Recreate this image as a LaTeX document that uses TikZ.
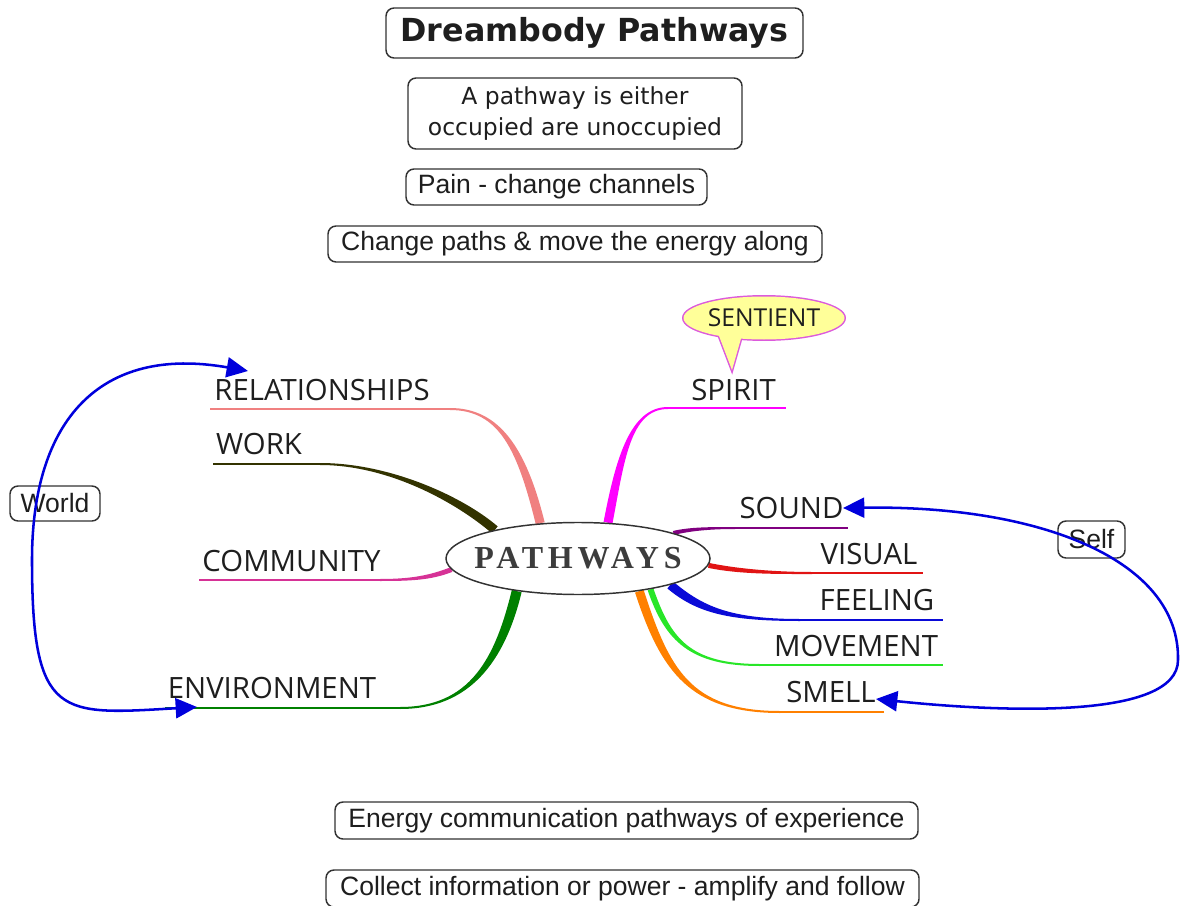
\documentclass[tikz,border=0pt]{standalone}
\usepackage{fontspec}
\setmainfont{Liberation Sans}
\newfontfamily\labfont{Open Sans}
\newfontfamily\dvfont{DejaVu Sans}
\newfontfamily\serfont[LetterSpace=15]{Liberation Serif}
\usetikzlibrary{shapes.geometric,arrows.meta,calc,backgrounds}
\definecolor{crel}{RGB}{240,128,128}
\definecolor{cwork}{RGB}{51,51,0}
\definecolor{ccomm}{RGB}{214,50,150}
\definecolor{cenv}{RGB}{0,128,0}
\definecolor{cspirit}{RGB}{255,0,255}
\definecolor{csound}{RGB}{128,0,128}
\definecolor{cvis}{RGB}{225,20,20}
\definecolor{cfeel}{RGB}{10,10,215}
\definecolor{cmove}{RGB}{40,230,40}
\definecolor{csmell}{RGB}{255,128,0}
\definecolor{blu}{RGB}{0,0,220}
\definecolor{boxc}{RGB}{50,50,50}
\definecolor{labc}{RGB}{30,30,30}
\definecolor{sentb}{RGB}{220,90,220}
\definecolor{senty}{RGB}{255,255,153}
\newcommand\taper[8]{%
  \fill[#1] ($#2+#6$) .. controls ($#3+#6$) and ($#4+#7$) .. ($#5+#7$)
    -- ($#5-#7$) .. controls ($#4-#7$) and ($#3-#6$) .. ($#2-#6$) -- cycle;
  \draw[#1, line width=1.5pt] #5 -- #8;}
\tikzset{
  box/.style={draw=boxc, line width=1.1pt, rounded corners=6pt, fill=white,
    inner sep=0pt, align=center, text=labc, font=\fontsize{19.9}{24}\selectfont},
  lab/.style={anchor=base, text=labc, inner sep=0pt, font=\labfont\fontsize{22}{26}\selectfont},
  dblarrow/.style={blu, line width=1.9pt,
    {Triangle[length=16pt,width=15pt]}-{Triangle[length=16pt,width=15pt]}}
}
\begin{document}
\begin{tikzpicture}[x=0.75pt, y=-0.75pt]
\useasboundingbox (0,0) rectangle (1183,906);

% text boxes
\node[box, minimum width=312.75pt, minimum height=37.5pt,
  font=\dvfont\bfseries\fontsize{23.8}{28}\selectfont] (title) at (594.5,33) {Dreambody Pathways};
\node[box, minimum width=250.5pt, minimum height=53.25pt,
  font=\dvfont\fontsize{17.6}{23.25}\selectfont] (occ) at (575,113.5) {A pathway is either\\occupied are unoccupied};
\node[box, minimum width=225.75pt, minimum height=27pt] (pain) at (556.5,187) {Pain - change channels};
\node[box, minimum width=370.5pt, minimum height=27pt] (chg) at (575,244) {Change paths \& move the energy along};
\node[box, minimum width=437.25pt, minimum height=27.75pt] (energy) at (626.5,820.5) {Energy communication pathways of experience};
\node[box, minimum width=444.75pt, minimum height=27.75pt] (coll) at (622.5,888.5) {Collect information or power - amplify and follow};
\node[box, minimum width=67.5pt, minimum height=26.25pt] (world) at (55,503.5) {World};
\node[box, minimum width=50.25pt, minimum height=27.75pt] (self) at (1091.5,539.5) {Self};

% central ellipse
\node[ellipse, draw=boxc, line width=1.1pt, fill=white, minimum width=198pt,
  minimum height=54pt, inner sep=0pt] (P) at (578,558.5) {};
\node[text={rgb,255:red,60;green,60;blue,60}, inner sep=0pt,
  font=\serfont\bfseries\fontsize{24}{26}\selectfont] (Ptext) at (P.center) {PATHWAYS};

% labels
\node[lab] (rel) at (322,400) {RELATIONSHIPS};
\node[lab] (work) at (259,454) {WORK};
\node[lab] (comm) at (291.5,571) {COMMUNITY};
\node[lab] (env) at (272,698) {ENVIRONMENT};
\node[lab] (spirit) at (733.5,400) {SPIRIT};
\node[lab] (sound) at (791.5,518) {SOUND};
\node[lab] (visual) at (869,564) {VISUAL};
\node[lab] (feeling) at (877,610) {FEELING};
\node[lab] (move) at (856,656) {MOVEMENT};
\node[lab] (smell) at (831,702) {SMELL};

% branch end coordinates
\coordinate (e1) at (450,409);  \coordinate (u1) at (210,409);
\coordinate (e2) at (320,464);  \coordinate (u2) at (213,464);
\coordinate (e3) at (380,580);  \coordinate (u3) at (199,580);
\coordinate (e4) at (400,708);  \coordinate (u4) at (165,708);
\coordinate (e5) at (668,408);  \coordinate (u5) at (786,408);
\coordinate (e6) at (735,528);  \coordinate (u6) at (848,528);
\coordinate (e7) at (812,573);  \coordinate (u7) at (923,573);
\coordinate (e8) at (800,620);  \coordinate (u8) at (943,620);
\coordinate (e9) at (760,665);  \coordinate (u9) at (943,665);
\coordinate (e10) at (780,712); \coordinate (u10) at (884,712);

\begin{scope}[on background layer]
\taper{crel}{(P.137)}{(522,450)}{(500,409)}{(e1)}{(4.4,-1.1)}{(0,-1)}{(u1)}
\taper{cwork}{(P.161)}{(460,500)}{(390,464)}{(e2)}{(2.8,-3.5)}{(0,-1)}{(u2)}
\taper{ccomm}{(P.185)}{(430,578)}{(410,580)}{(e3)}{(-0.95,-2.3)}{(0,-1)}{(u3)}
\taper{cenv}{(P.208)}{(500,660)}{(470,708)}{(e4)}{(-4.85,-1.25)}{(0,-1)}{(u4)}
\taper{cspirit}{(P.50)}{(620,460)}{(630,408)}{(e5)}{(4.4,1)}{(0,1)}{(u5)}
\taper{csound}{(P.15)}{(690,529)}{(710,528)}{(e6)}{(0.44,1.96)}{(0,1)}{(u6)}
\taper{cvis}{(P.357)}{(740,572)}{(780,573)}{(e7)}{(-0.3,2.5)}{(0,1)}{(u7)}
\taper{csmell}{(P.332)}{(665,670)}{(690,712)}{(e10)}{(-4.2,1.5)}{(0,1)}{(u10)}
\taper{cmove}{(P.337)}{(668,640)}{(690,665)}{(e9)}{(-2.8,1.1)}{(0,1)}{(u9)}
\taper{cfeel}{(P.344)}{(700,610)}{(730,620)}{(e8)}{(-2.8,3.5)}{(0,1)}{(u8)}
\end{scope}

% SENTIENT callout
\coordinate (tp) at (732,370);
\node[ellipse, draw=sentb, line width=2.2pt, minimum width=120.75pt,
  minimum height=32.25pt, inner sep=0pt] (S) at (764,318) {};
\draw[sentb, line width=2.2pt, line join=miter] (716,328) -- (tp) -- (744,328);
\fill[senty] (716,328) -- (tp) -- (744,328) -- cycle;
\fill[senty] (S.center) ellipse [x radius=80.5, y radius=21.5];
\node[text=labc, inner sep=0pt, font=\labfont\fontsize{18.5}{22}\selectfont] (Stext) at (S.center) {SENTIENT};

% blue arrows
\coordinate (lt) at (248,371);
\coordinate (lb) at (197,707);
\draw[dblarrow] (lt) .. controls (100,345) and (32,420) .. (32,560)
   .. controls (32,720) and (60,715) .. (lb);
\coordinate (rt) at (843,508);
\coordinate (rb) at (876,699);
\draw[dblarrow] (rt) .. controls (1040,505) and (1180,560) .. (1178,660)
   .. controls (1178,720) and (1000,712) .. (rb);
\end{tikzpicture}
\end{document}
